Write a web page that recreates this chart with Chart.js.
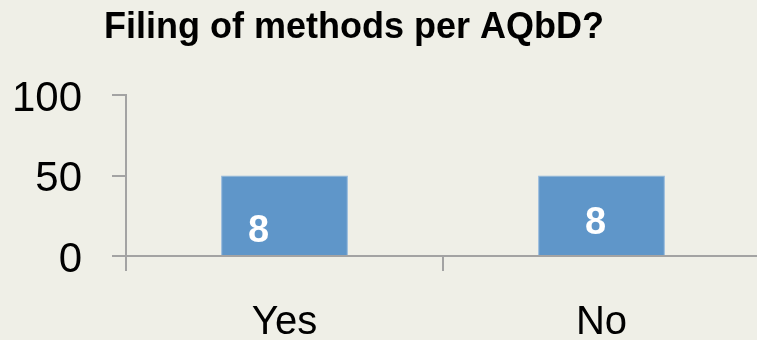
<!DOCTYPE html>
<html>
<head>
<meta charset="utf-8">
<script src="https://cdn.jsdelivr.net/npm/chart.js@4/dist/chart.umd.min.js"></script>
<style>
  html, body { margin: 0; padding: 0; background: #efefe7; overflow: hidden; }
  #wrap { width: 760px; height: 340px; position: relative; }
</style>
</head>
<body>
<div id="wrap"><canvas id="chart"></canvas></div>
<script>
// Survey answers: how many respondents file their methods per AQbD
const categories = ['Yes', 'No'];
const respondentCounts = [8, 8];
const yTickValues = [0, 50, 100];
const chartTitle = 'Filing of methods per AQbD?';

// Bars show each answer's share of all respondents, in percent
const totalRespondents = respondentCounts.reduce((a, b) => a + b, 0);
const answerShares = respondentCounts.map(c => c / totalRespondents * 100);

const AXIS_GREY = '#a3a3a3';
const FONT = '"Liberation Sans", Arial, sans-serif';

// Per-bar nudges for the count labels inside the bars
const countLabelNudge = [{ dx: -26, dy: 16 }, { dx: -6, dy: 8 }];

const backgroundPlugin = {
  id: 'pageBackground',
  beforeDraw(chart) {
    const { ctx, width, height } = chart;
    ctx.save();
    ctx.fillStyle = '#efefe7';
    ctx.fillRect(0, 0, width, height);
    ctx.restore();
  }
};

const titlePlugin = {
  id: 'leftTitle',
  afterDraw(chart) {
    const { ctx } = chart;
    ctx.save();
    ctx.font = 'bold 36px ' + FONT;
    ctx.fillStyle = '#000';
    ctx.textAlign = 'center';
    ctx.textBaseline = 'alphabetic';
    ctx.fillText(chartTitle, 354, 38);
    ctx.restore();
  }
};

const countLabelPlugin = {
  id: 'countLabels',
  afterDatasetsDraw(chart) {
    const { ctx } = chart;
    const meta = chart.getDatasetMeta(0);
    ctx.save();
    ctx.font = 'bold 38px ' + FONT;
    ctx.fillStyle = '#ffffff';
    ctx.textAlign = 'center';
    ctx.textBaseline = 'middle';
    meta.data.forEach((bar, i) => {
      const n = countLabelNudge[i] || { dx: 0, dy: 0 };
      const cy = (bar.y + bar.base) / 2;
      ctx.fillText(String(respondentCounts[i]), bar.x + n.dx, cy + n.dy);
    });
    ctx.restore();
  }
};

new Chart(document.getElementById('chart'), {
  type: 'bar',
  data: {
    labels: categories,
    datasets: [{
      data: answerShares,
      backgroundColor: '#5f96c9',
      borderColor: '#8fb6dc',
      borderWidth: 1,
      barPercentage: 0.4,
      categoryPercentage: 1.0
    }]
  },
  options: {
    responsive: true,
    maintainAspectRatio: false,
    animation: false,
    layout: { padding: { top: 95, left: 12, right: 0, bottom: 0 } },
    plugins: {
      legend: { display: false },
      title: { display: false },
      tooltip: { enabled: false }
    },
    scales: {
      x: {
        afterFit(scale) { scale.height = 84; },
        grid: {
          display: true,
          drawOnChartArea: false,
          drawTicks: true,
          tickLength: 15,
          color: AXIS_GREY,
          lineWidth: 2,
          offset: true
        },
        border: { display: true, color: AXIS_GREY, width: 2 },
        ticks: {
          font: { family: FONT, size: 40 },
          color: '#000',
          padding: 28
        }
      },
      y: {
        min: 0,
        max: 100,
        afterBuildTicks(scale) {
          scale.ticks = yTickValues.map(v => ({ value: v }));
        },
        afterFit(scale) { scale.width = 114; },
        grid: {
          display: true,
          drawOnChartArea: false,
          drawTicks: true,
          tickLength: 14,
          color: AXIS_GREY,
          lineWidth: 2
        },
        border: { display: true, color: AXIS_GREY, width: 2 },
        ticks: {
          font: { family: FONT, size: 42 },
          color: '#000',
          padding: 30,
          labelOffset: 4
        }
      }
    }
  },
  plugins: [backgroundPlugin, titlePlugin, countLabelPlugin]
});
</script>
</body>
</html>
